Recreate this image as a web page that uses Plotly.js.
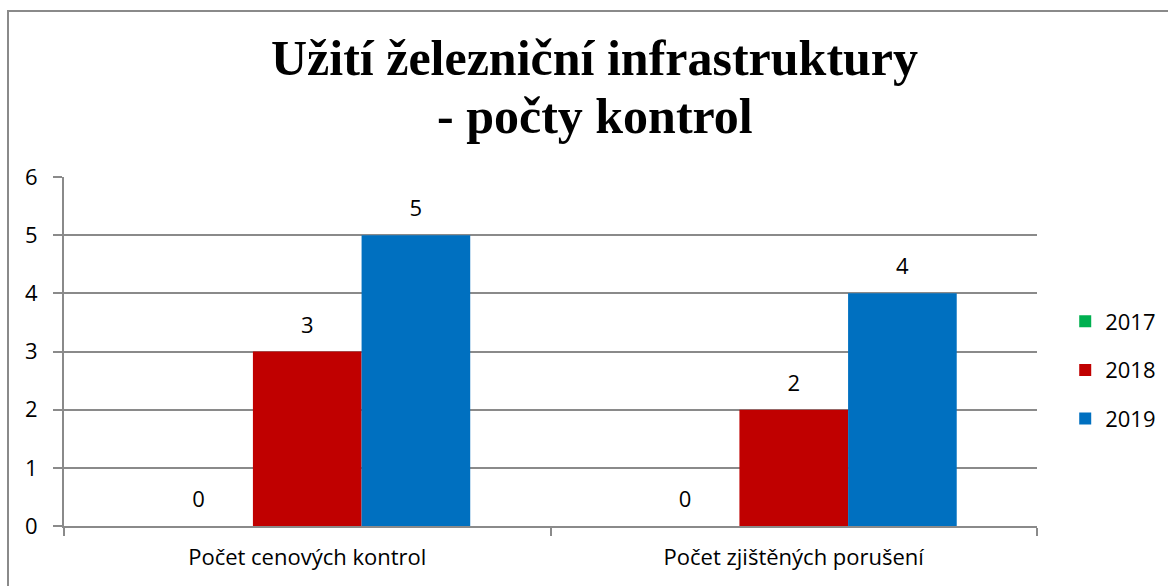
<!DOCTYPE html>
<html><head><meta charset="utf-8">
<script src="https://cdn.plot.ly/plotly-3.0.1.min.js"></script>
<style>
html,body{margin:0;padding:0;overflow:hidden;background:#fff;}
#chart{position:absolute;left:0;top:0;width:1168px;height:586px;}
#frame{position:absolute;left:7px;top:10px;width:2000px;height:2000px;border-left:2px solid #8a8a8a;border-top:2px solid #8a8a8a;pointer-events:none;}
</style></head>
<body>
<div id="chart"></div>
<div id="frame"></div>
<script>
const categories = ["Počet cenových kontrol", "Počet zjištěných porušení"];
const seriesNames = ["2017", "2018", "2019"];
const values2017 = [0, 0];
const values2018 = [3, 2];
const values2019 = [5, 4];
const colors = ["#00b050", "#c00000", "#0070c0"];
const yTicks = [0, 1, 2, 3, 4, 5, 6];
const titleLine1 = "Užití železniční infrastruktury";
const titleLine2 = "- počty kontrol";

const FONT = "Open Sans";
const allValues = [values2017, values2018, values2019];

const barTraces = allValues.map((vals, i) => ({
  type: "bar",
  name: seriesNames[i],
  x: categories,
  y: vals,
  marker: {color: colors[i]},
  legendgroup: "g" + i,
  hoverinfo: "none"
}));

const labelTraces = allValues.map((vals, i) => ({
  type: "scatter",
  mode: "markers+text",
  x: categories,
  y: vals,
  text: vals.map(String),
  textposition: "top center",
  textfont: {family: FONT, size: 22, color: "#000"},
  marker: {size: 20, opacity: 0, color: colors[i]},
  cliponaxis: false,
  showlegend: false,
  hoverinfo: "none"
}));

const layout = {
  width: 1168, height: 586,
  margin: {l: 64, r: 131, t: 177, b: 60},
  paper_bgcolor: "#fff", plot_bgcolor: "#fff",
  font: {family: FONT, size: 22, color: "#000"},
  title: {
    text: titleLine1,
    font: {family: "Liberation Serif", size: 50, color: "#000", weight: 700},
    x: 0.509, xref: "container", xanchor: "center",
    y: 0.902, yref: "container", yanchor: "middle"
  },
  annotations: [{
    text: titleLine2,
    font: {family: "Liberation Serif", size: 50, color: "#000", weight: 700},
    xref: "paper", yref: "paper",
    x: 0.5457, y: 1.175, xanchor: "center", yanchor: "middle",
    showarrow: false
  }],
  barmode: "group",
  bargap: 0.33,
  bargroupgap: 0,
  scattermode: "group",
  scattergap: 0.33,
  xaxis: {
    type: "category",
    showline: true, linecolor: "#8a8a8a", linewidth: 2,
    ticks: "outside", tickson: "boundaries", ticklen: 8, tickcolor: "#8a8a8a", tickwidth: 2,
    showgrid: false, zeroline: false,
    ticklabelstandoff: 11,
    tickfont: {family: FONT, size: 22, color: "#000"}
  },
  yaxis: {
    range: [0, 6],
    tickvals: yTicks,
    showline: true, linecolor: "#8a8a8a", linewidth: 2,
    ticks: "outside", ticklen: 9, tickcolor: "#8a8a8a", tickwidth: 2,
    showgrid: true, gridcolor: "#8a8a8a", gridwidth: 2,
    zeroline: false,
    ticklabelstandoff: 11,
    tickfont: {family: FONT, size: 22, color: "#000"}
  },
  showlegend: true,
  legend: {
    xref: "container", yref: "paper",
    x: 0.912, xanchor: "left", y: 0.447, yanchor: "middle",
    font: {family: FONT, size: 22, color: "#000"},
    tracegroupgap: 17,
    traceorder: "grouped",
    bgcolor: "rgba(0,0,0,0)"
  }
};

Plotly.newPlot("chart", barTraces.concat(labelTraces), layout, {staticPlot: true, displayModeBar: false});
</script>
</body></html>
